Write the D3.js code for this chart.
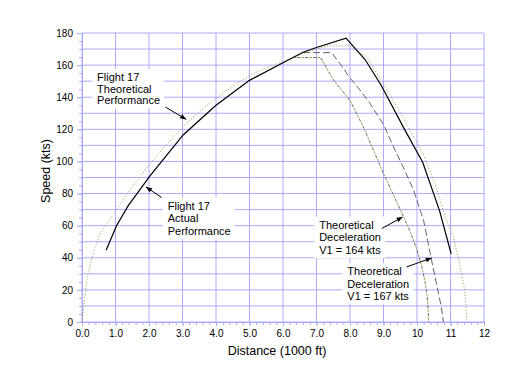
<!DOCTYPE html>
<html>
<head>
<meta charset="utf-8">
<script src="https://cdn.jsdelivr.net/npm/d3@7"></script>
<style>
  body { margin: 0; background: #fff; }
  svg { display: block; font-family: "Liberation Sans", Arial, sans-serif; }
</style>
</head>
<body>
<svg id="chart" width="512" height="384"></svg>
<script>
/* Chart data */

// Distance in 1000 ft, speed in kts
const actualDistance = [0.72, 1.03, 1.38, 2.03, 2.53, 3.02, 4.0, 4.17, 5.0, 6.0, 6.6, 7.0, 7.88, 8.45, 8.93, 9.64, 10.17, 10.67, 11.02];
const actualSpeed = [44.7, 60, 72.5, 91, 104, 116.5, 135, 137.6, 150.5, 161.5, 168, 171, 176.8, 163.5, 147.5, 119.5, 99.5, 69.5, 42.5];

const theoreticalDistance = [0, 0.04, 0.1, 0.16, 0.25, 0.34, 0.54, 0.8, 1.03, 1.53, 2.03, 2.5, 3.02, 3.5, 4.02, 4.5, 5.01, 5.5, 6.0, 6.5, 7.0, 7.35, 8.0, 8.5, 9.0, 9.69, 10.2, 10.59, 10.84, 11.08, 11.23, 11.33, 11.43, 11.49];
const theoreticalSpeed = [0, 7, 18, 28, 36, 43, 55, 63, 70, 85, 98.5, 110, 121.5, 131, 139.5, 147, 153.5, 158.5, 162, 166.5, 170, 172, 172, 165, 148.5, 123.5, 104, 83, 65.5, 53, 40.5, 30, 19.7, 0];

const decel164Distance = [6.3, 7.12, 7.5, 8.0, 8.4, 8.7, 9.0, 9.3, 9.59, 9.8, 10.0, 10.15, 10.25, 10.32, 10.35];
const decel164Speed = [164.7, 164.7, 151, 138, 121.5, 107, 92.5, 79, 66, 56, 45, 34, 24, 13, 0];

const decel167Distance = [6.6, 7.45, 7.7, 8.0, 8.3, 8.6, 9.0, 9.3, 9.6, 9.9, 10.2, 10.41, 10.6, 10.72, 10.79];
const decel167Speed = [167.8, 167.8, 161, 152, 144.5, 136, 123, 109, 96, 82, 63, 41, 22, 10, 0];

// Axis ticks
const xTicks = [0, 1, 2, 3, 4, 5, 6, 7, 8, 9, 10, 11, 12];
const xTickLabels = ["0.0", "1.0", "2.0", "3.0", "4.0", "5.0", "6.0", "7.0", "8.0", "9.0", "10", "11", "12"];
const yTicks = [0, 20, 40, 60, 80, 100, 120, 140, 160, 180];

// Annotations: text lines, where the text starts and where its arrow points (data units)
const annotationLines = [
  ["Flight 17", "Theoretical", "Performance"],
  ["Flight 17", "Actual", "Performance"],
  ["Theoretical", "Deceleration", "V1 = 164 kts"],
  ["Theoretical", "Deceleration", "V1 = 167 kts"]
];
const annotationAnchor = [[0.45, 150.1], [2.56, 70.0], [7.08, 58.2], [7.92, 29.1]];
const arrowFrom = [[2.49, 133.9], [2.38, 77.5], [8.95, 58.2], [9.69, 34.3]];
const arrowTo = [[3.11, 126.2], [1.91, 84.1], [9.57, 65.4], [10.44, 39.9]];

/* Drawing */

const svg = d3.select("#chart");
const gridColor = "#aaaaff";

const x = d3.scaleLinear().domain([0, 12]).range([82, 484]);
const y = d3.scaleLinear().domain([0, 180]).range([322, 33]);

// Gridlines every 1000 ft and every 10 kts
svg.append("g")
  .selectAll("line")
  .data(d3.range(0, 13))
  .join("line")
  .attr("x1", d => x(d)).attr("x2", d => x(d))
  .attr("y1", y(0)).attr("y2", y(180))
  .attr("stroke", gridColor);

svg.append("g")
  .selectAll("line")
  .data(d3.range(0, 181, 10))
  .join("line")
  .attr("x1", x(0)).attr("x2", x(12))
  .attr("y1", d => y(d)).attr("y2", d => y(d))
  .attr("stroke", gridColor);

// Axes: major ticks with labels, then small minor ticks
function styleAxis(g) {
  g.selectAll("path, line").attr("stroke", gridColor);
  g.selectAll("text")
    .attr("fill", "#000")
    .style("font-size", "10px")
    .style("font-family", '"Liberation Sans", Arial, sans-serif');
}

svg.append("g")
  .attr("transform", `translate(0,${y(0)})`)
  .call(d3.axisBottom(x).tickValues(d3.range(0, 12.01, 0.2)).tickSize(3).tickSizeOuter(0).tickFormat(""))
  .call(styleAxis);

svg.append("g")
  .attr("transform", `translate(0,${y(0)})`)
  .call(d3.axisBottom(x)
    .tickValues(xTicks)
    .tickSize(4)
    .tickPadding(4)
    .tickSizeOuter(0)
    .tickFormat((d, i) => xTickLabels[i]))
  .call(styleAxis);

svg.append("g")
  .attr("transform", `translate(${x(0)},0)`)
  .call(d3.axisLeft(y).tickValues(d3.range(0, 181, 5)).tickSize(3).tickSizeOuter(0).tickFormat(""))
  .call(styleAxis);

svg.append("g")
  .attr("transform", `translate(${x(0)},0)`)
  .call(d3.axisLeft(y).tickValues(yTicks).tickSize(5).tickPadding(4).tickSizeOuter(0))
  .call(styleAxis);

// Axis titles
svg.append("text")
  .attr("x", 277)
  .attr("y", 355)
  .attr("text-anchor", "middle")
  .style("font-size", "12.5px")
  .text("Distance (1000 ft)");

svg.append("text")
  .attr("transform", "translate(50,171) rotate(-90)")
  .attr("text-anchor", "middle")
  .style("font-size", "12.5px")
  .text("Speed (kts)");

// White boxes behind the annotation text (sized after the text is laid out)
const boxLayer = svg.append("g");

// Curves
const line = d3.line().x(d => x(d[0])).y(d => y(d[1]));
const zip = (a, b) => a.map((v, i) => [v, b[i]]);

const curves = svg.append("g").attr("fill", "none");

curves.append("path")
  .attr("d", line(zip(decel167Distance, decel167Speed)))
  .attr("stroke", "#666666")
  .attr("stroke-dasharray", "7,3");

curves.append("path")
  .attr("d", line(zip(decel164Distance, decel164Speed)))
  .attr("stroke", "#a5a55a")
  .attr("stroke-dasharray", "3,5");
curves.append("path")
  .attr("d", line(zip(decel164Distance, decel164Speed)))
  .attr("stroke", "#666666")
  .attr("stroke-dasharray", "3,5")
  .attr("stroke-dashoffset", -4);

curves.append("path")
  .attr("d", line(zip(theoreticalDistance, theoreticalSpeed)))
  .attr("stroke", "#99994a")
  .attr("stroke-dasharray", "1,2");

curves.append("path")
  .attr("d", line(zip(actualDistance, actualSpeed)))
  .attr("stroke", "#000")
  .attr("stroke-width", 1.2);

// Arrow heads
svg.append("defs")
  .append("marker")
  .attr("id", "arrow")
  .attr("viewBox", "0 0 10 10")
  .attr("refX", 10)
  .attr("refY", 5)
  .attr("markerWidth", 7)
  .attr("markerHeight", 6)
  .attr("orient", "auto")
  .append("path")
  .attr("d", "M0,1 L10,5 L0,9 z")
  .attr("fill", "#000");

// Annotation text, boxes and arrows
const lineSpacing = [11.7, 12.8, 12.8, 12.6];

annotationLines.forEach((lines, i) => {
  const label = svg.append("text")
    .attr("x", x(annotationAnchor[i][0]))
    .attr("y", y(annotationAnchor[i][1]))
    .style("font-size", "11px")
    .attr("fill", "#000");
  label.selectAll("tspan")
    .data(lines)
    .join("tspan")
    .attr("x", x(annotationAnchor[i][0]))
    .attr("dy", (d, j) => j === 0 ? 0 : lineSpacing[i])
    .text(d => d);

  const box = label.node().getBBox();
  boxLayer.append("rect")
    .attr("x", box.x - 5)
    .attr("y", box.y - 2)
    .attr("width", box.width + 9)
    .attr("height", box.height + 4)
    .attr("fill", "#fff");

  svg.append("line")
    .attr("x1", x(arrowFrom[i][0])).attr("y1", y(arrowFrom[i][1]))
    .attr("x2", x(arrowTo[i][0])).attr("y2", y(arrowTo[i][1]))
    .attr("stroke", "#000")
    .attr("marker-end", "url(#arrow)");
});
</script>
</body>
</html>
